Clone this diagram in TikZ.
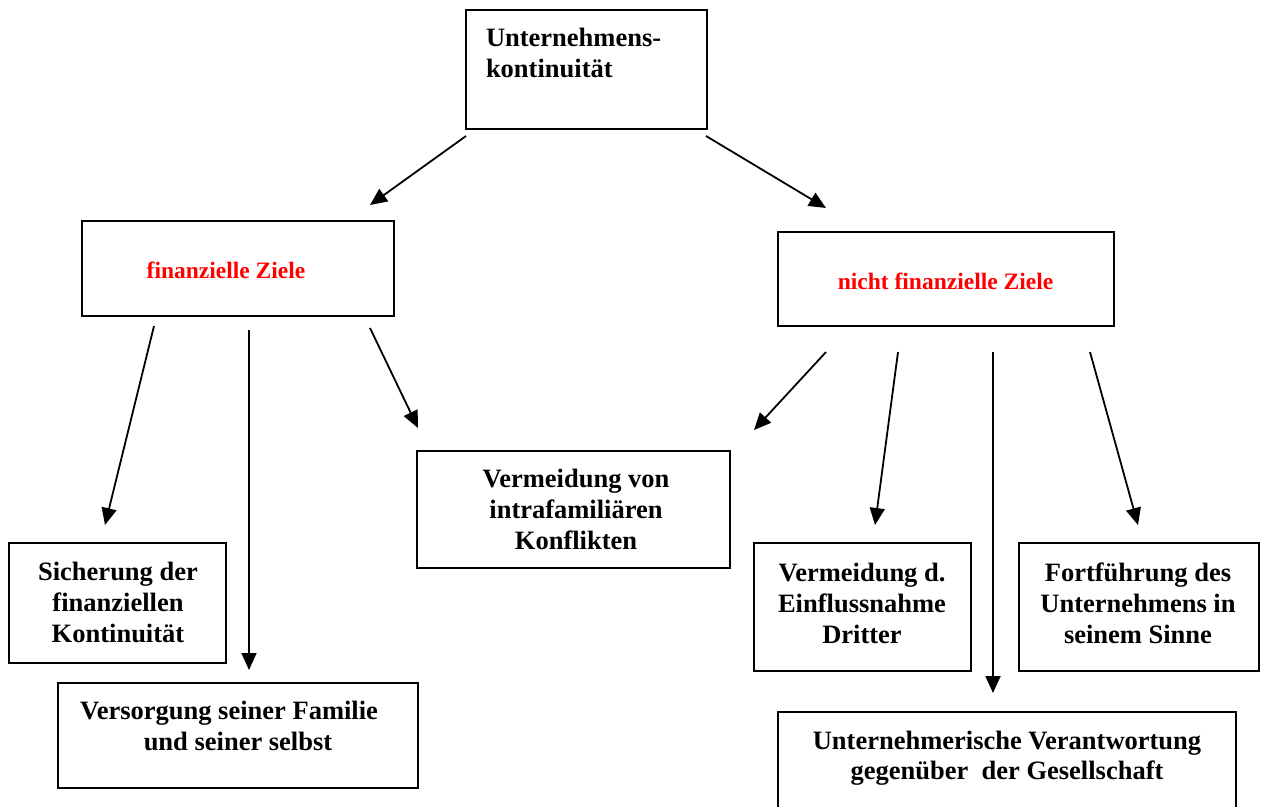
\documentclass[tikz,border=0pt]{standalone}
\usepackage{fontspec}
\setmainfont{Liberation Serif}
\usetikzlibrary{arrows.meta}
\begin{document}
\begin{tikzpicture}[x=1pt,y=-1pt,
  box/.style={draw=black,line width=1.8pt,inner sep=0pt,outer sep=0pt},
  txt/.style={inner sep=0pt,outer sep=0pt,align=center,anchor=north,
    font=\bfseries\fontsize{26.5}{31}\selectfont},
  redtxt/.style={inner sep=0pt,outer sep=0pt,anchor=base,text=red,
    font=\bfseries\fontsize{23.5}{28}\selectfont},
  arr/.style={line width=1.8pt,-{Triangle[length=17pt,width=15pt]}}]
\useasboundingbox (0,0) rectangle (1265,806);
\clip (0,0) rectangle (1265,806);
\fill[white] (0,0) rectangle (1265,806);

% boxes
\node[box,minimum width=241pt,minimum height=119pt] (top) at (586.5,69.5) {};
\node[box,minimum width=312pt,minimum height=95pt] (fin) at (238,268.5) {};
\node[box,minimum width=336pt,minimum height=94pt] (nfin) at (946,279) {};
\node[box,minimum width=313pt,minimum height=117pt] (verm) at (573.5,509.5) {};
\node[box,minimum width=217pt,minimum height=120pt] (sich) at (117.5,603) {};
\node[box,minimum width=360pt,minimum height=105pt] (vers) at (238,735.5) {};
\node[box,minimum width=217pt,minimum height=128pt] (einf) at (862.5,607) {};
\node[box,minimum width=240pt,minimum height=128pt] (fort) at (1139,607) {};
\node[box,minimum width=458pt,minimum height=130pt] (verant) at (1007,777) {};

% texts
\node[txt,anchor=north west,align=left] (ttop) at (486,28) {Unternehmens-\\kontinuität};
\node[redtxt] (tfin) at (226,278) {finanzielle Ziele};
\node[redtxt] (tnfin) at (945.5,289) {nicht finanzielle Ziele};
\node[txt] (tverm) at (576,469) {Vermeidung von\\intrafamiliären\\Konflikten};
\node[txt] (tsich) at (118,562) {Sicherung der\\finanziellen\\Kontinuität};
\node[txt] (tvers) at (229,701) {Versorgung seiner Familie\\\hspace*{18pt}und seiner selbst};
\node[txt] (teinf) at (862,563) {Vermeidung d.\\Einflussnahme\\Dritter};
\node[txt] (tfort) at (1138,563) {Fortführung des\\Unternehmens in\\seinem Sinne};
\node[txt,font=\bfseries\fontsize{26.5}{30}\selectfont] (tverant) at (1007,731) {Unternehmerische Verantwortung\\gegenüber\ \ der Gesellschaft};

% arrow end points
\coordinate (a1s) at (466,136); \coordinate (a1e) at (370,205);
\coordinate (a2s) at (706,136); \coordinate (a2e) at (826,208);
\coordinate (a3s) at (154,326); \coordinate (a3e) at (105,525);
\coordinate (a4s) at (249,330); \coordinate (a4e) at (249,670);
\coordinate (a5s) at (370,328); \coordinate (a5e) at (418,428);
\coordinate (a6s) at (826,352); \coordinate (a6e) at (754,430);
\coordinate (a7s) at (898,352); \coordinate (a7e) at (875,525);
\coordinate (a8s) at (993,352); \coordinate (a8e) at (993,693);
\coordinate (a9s) at (1090,352); \coordinate (a9e) at (1138,525);

\foreach \i in {1,...,9} {\draw[arr] (a\i s) -- (a\i e);}
\end{tikzpicture}
\end{document}
